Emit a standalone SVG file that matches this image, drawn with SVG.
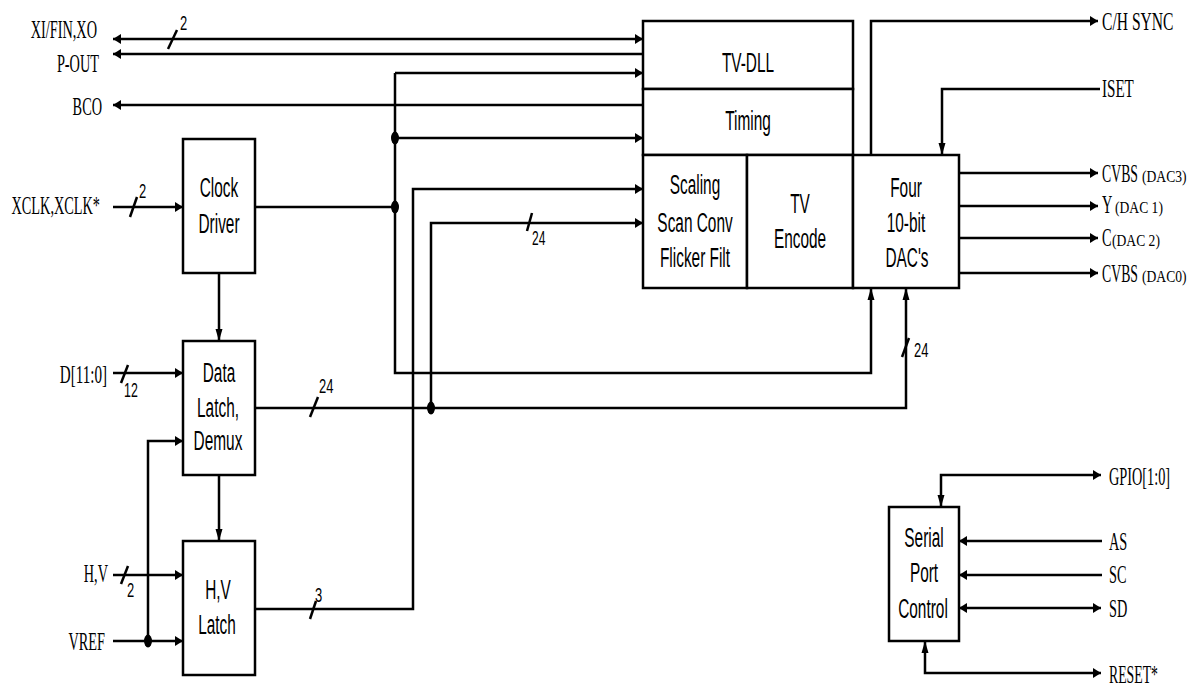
<svg xmlns="http://www.w3.org/2000/svg" width="1199" height="688" viewBox="0 0 1199 688">
<style>
.box{fill:#fff;stroke:#000;stroke-width:2.5}
.ln{fill:none;stroke:#000;stroke-width:2.5}
.sl{stroke:#000;stroke-width:2.5}
.ah{marker-end:url(#ah)}
.ahs{marker-start:url(#ah)}
.av{marker-end:url(#av)}
.avs{marker-start:url(#av)}
.s{font-family:"Liberation Sans",Arial,sans-serif;font-size:28px;fill:#000;text-anchor:middle}
.r{font-family:"Liberation Serif","Times New Roman",serif;font-size:26px;fill:#000}
.e{text-anchor:end}
.rs{font-family:"Liberation Serif","Times New Roman",serif;font-size:17px;fill:#000}
.n{font-family:"Liberation Sans",Arial,sans-serif;font-size:20px;fill:#000}
</style>
<defs>
<marker id="ah" markerUnits="userSpaceOnUse" markerWidth="9" markerHeight="10" refX="8" refY="5" orient="auto-start-reverse" overflow="visible"><path d="M0,0 L8,5 L0,10 z" fill="#000"/></marker>
<marker id="av" markerUnits="userSpaceOnUse" markerWidth="13" markerHeight="7" refX="12" refY="3.5" orient="auto-start-reverse" overflow="visible"><path d="M0,0 L12,3.5 L0,7 z" fill="#000"/></marker>
</defs>
<rect width="1199" height="688" fill="#fff"/>

<g id="connectors">
<path class="ln ah ahs" d="M113,39 H643"/>
<line class="sl" x1="168" y1="49" x2="177" y2="30"/>
<path class="ln ah" d="M643,54 H113"/>
<path class="ln ah" d="M643,105 H113"/>
<path class="ln ah" d="M395,73 H643"/>
<path class="ln av" d="M395,73 V373 H871 V288"/>
<path class="ln ah" d="M395,138 H643"/>
<path class="ln" d="M255,207 H395"/>
<ellipse cx="395" cy="138" rx="4" ry="6.5" fill="#000"/>
<ellipse cx="395" cy="207" rx="4" ry="6.5" fill="#000"/>
<path class="ln ah" d="M113,207 H183"/>
<line class="sl" x1="130" y1="217" x2="137" y2="197"/>
<path class="ln av" d="M219,273 V341"/>
<path class="ln av" d="M219,475 V541"/>
<path class="ln ah" d="M113,373 H183"/>
<line class="sl" x1="121" y1="383" x2="128" y2="365"/>
<path class="ln ah" d="M113,575 H183"/>
<line class="sl" x1="121" y1="584" x2="128" y2="566"/>
<path class="ln ah" d="M113,641 H183"/>
<path class="ln ah" d="M148,641 V441 H183"/>
<ellipse cx="148" cy="641" rx="4" ry="6.5" fill="#000"/>
<path class="ln ah" d="M255,609 H413 V189 H643"/>
<line class="sl" x1="310" y1="619" x2="316" y2="601"/>
<path class="ln av" d="M255,408 H906 V288"/>
<line class="sl" x1="310" y1="417" x2="318" y2="397"/>
<line class="sl" x1="902" y1="357" x2="909" y2="338"/>
<path class="ln ah" d="M431,408 V223 H643"/>
<line class="sl" x1="527" y1="231" x2="532" y2="213"/>
<ellipse cx="431" cy="408" rx="4" ry="6.5" fill="#000"/>
<path class="ln ah" d="M871,155 V21 H1098"/>
<path class="ln av" d="M1100,89 H942 V155"/>
<path class="ln ah" d="M959,173 H1098"/>
<path class="ln ah" d="M959,206 H1098"/>
<path class="ln ah" d="M959,238 H1098"/>
<path class="ln ah" d="M959,273 H1098"/>
<path class="ln ah avs" d="M941,507 V475 H1101"/>
<path class="ln ah" d="M1102,541 H959"/>
<path class="ln ah" d="M1102,575 H959"/>
<path class="ln ah ahs" d="M959,608 H1101"/>
<path class="ln ah avs" d="M925,641 V673 H1101"/>
</g>

<g id="tv-dll"><rect class="box" x="643" y="21" width="210" height="68"/><text class="s" transform="matrix(.55,0,0,1,748,72)">TV-DLL</text></g>
<g id="timing"><rect class="box" x="643" y="89" width="210" height="66"/><text class="s" transform="matrix(.55,0,0,1,748,130)">Timing</text></g>
<g id="scaling"><rect class="box" x="643" y="155" width="104" height="133"/>
<text class="s" transform="matrix(.55,0,0,1,695,194)">Scaling</text>
<text class="s" transform="matrix(.55,0,0,1,695,232)">Scan Conv</text>
<text class="s" transform="matrix(.55,0,0,1,695,267)">Flicker Filt</text></g>
<g id="tv-encode"><rect class="box" x="747" y="155" width="106" height="133"/>
<text class="s" transform="matrix(.55,0,0,1,800,213)">TV</text>
<text class="s" transform="matrix(.55,0,0,1,800,248)">Encode</text></g>
<g id="dacs"><rect class="box" x="853" y="155" width="106" height="133"/>
<text class="s" transform="matrix(.55,0,0,1,906,197)">Four</text>
<text class="s" transform="matrix(.55,0,0,1,906,232)">10-bit</text>
<text class="s" transform="matrix(.55,0,0,1,907,267)">DAC's</text></g>
<g id="clock-driver"><rect class="box" x="183" y="139" width="72" height="134"/>
<text class="s" transform="matrix(.55,0,0,1,219,197)">Clock</text>
<text class="s" transform="matrix(.55,0,0,1,219,233)">Driver</text></g>
<g id="data-latch"><rect class="box" x="183" y="341" width="72" height="134"/>
<text class="s" transform="matrix(.55,0,0,1,219,382)">Data</text>
<text class="s" transform="matrix(.55,0,0,1,218,417)">Latch,</text>
<text class="s" transform="matrix(.55,0,0,1,218,450)">Demux</text></g>
<g id="hv-latch"><rect class="box" x="183" y="541" width="72" height="134"/>
<text class="s" transform="matrix(.55,0,0,1,218,599)">H,V</text>
<text class="s" transform="matrix(.55,0,0,1,217,634)">Latch</text></g>
<g id="serial-port"><rect class="box" x="889" y="507" width="70" height="134"/>
<text class="s" transform="matrix(.55,0,0,1,924,547)">Serial</text>
<text class="s" transform="matrix(.55,0,0,1,924,582)">Port</text>
<text class="s" transform="matrix(.55,0,0,1,923,618)">Control</text></g>

<g id="pin-labels">
<text class="r e" transform="matrix(.55,0,0,1,97,38)">XI/FIN,XO</text>
<text class="r e" transform="matrix(.55,0,0,1,99,72)">P-OUT</text>
<text class="r e" transform="matrix(.55,0,0,1,102,115)">BCO</text>
<text class="r e" transform="matrix(.55,0,0,1,100,214)">XCLK,XCLK*</text>
<text class="r e" transform="matrix(.58,0,0,1,107,383)">D[11:0]</text>
<text class="r e" transform="matrix(.55,0,0,1,108,582)">H,V</text>
<text class="r e" transform="matrix(.55,0,0,1,105,650)">VREF</text>
<text class="r" transform="matrix(.6,0,0,1,1102,30)">C/H SYNC</text>
<text class="r" transform="matrix(.58,0,0,1,1102,97)">ISET</text>
<text class="r" transform="matrix(.53,0,0,1,1102,182)">CVBS</text>
<text class="rs" transform="matrix(.8,0,0,1,1142,182)">(DAC3)</text>
<text class="r" transform="matrix(.55,0,0,1,1102,213)">Y</text>
<text class="rs" transform="matrix(.8,0,0,1,1115,213)">(DAC 1)</text>
<text class="r" transform="matrix(.55,0,0,1,1102,246)">C</text>
<text class="rs" transform="matrix(.8,0,0,1,1112,246)">(DAC 2)</text>
<text class="r" transform="matrix(.53,0,0,1,1102,282)">CVBS</text>
<text class="rs" transform="matrix(.8,0,0,1,1142,282)">(DAC0)</text>
<text class="r" transform="matrix(.55,0,0,1,1109,485)">GPIO[1:0]</text>
<text class="r" transform="matrix(.55,0,0,1,1109,550)">AS</text>
<text class="r" transform="matrix(.55,0,0,1,1109,583)">SC</text>
<text class="r" transform="matrix(.55,0,0,1,1109,617)">SD</text>
<text class="r" transform="matrix(.53,0,0,1,1109,683)">RESET*</text>
</g>

<g id="bus-widths">
<text class="n" transform="matrix(.65,0,0,1,180,30)">2</text>
<text class="n" transform="matrix(.65,0,0,1,139,198)">2</text>
<text class="n" transform="matrix(.62,0,0,1,124,397)">12</text>
<text class="n" transform="matrix(.65,0,0,1,319,393)">24</text>
<text class="n" transform="matrix(.6,0,0,1,532,245)">24</text>
<text class="n" transform="matrix(.65,0,0,1,914,357)">24</text>
<text class="n" transform="matrix(.65,0,0,1,127,597)">2</text>
<text class="n" transform="matrix(.65,0,0,1,315,602)">3</text>
</g>
</svg>
